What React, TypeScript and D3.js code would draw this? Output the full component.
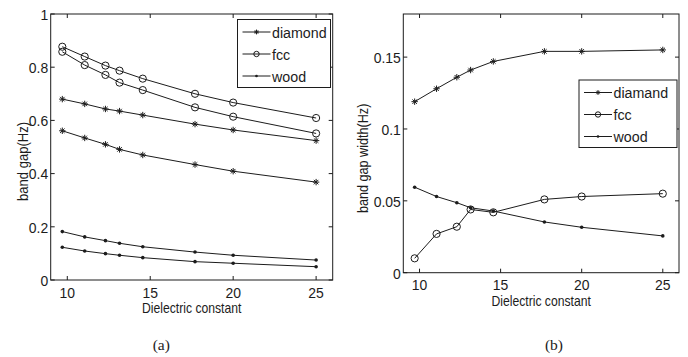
import React, { useEffect, useRef } from "react";
import * as d3 from "d3";

// dielectric constants on the x axis (both panels)
const dielectric = [9.7, 11.05, 12.3, 13.15, 14.55, 17.7, 20, 25];
const xTicks = [10, 15, 20, 25];

// (a) band gap (Hz) - two gaps per lattice
const diamondGapHigh = [0.68, 0.662, 0.643, 0.635, 0.62, 0.586, 0.564, 0.524];
const diamondGapLow = [0.561, 0.534, 0.51, 0.491, 0.47, 0.434, 0.409, 0.368];
const fccGapHigh = [0.877, 0.84, 0.806, 0.787, 0.757, 0.7, 0.667, 0.609];
const fccGapLow = [0.858, 0.808, 0.771, 0.742, 0.714, 0.649, 0.614, 0.551];
const woodGapHigh = [0.182, 0.162, 0.148, 0.138, 0.125, 0.105, 0.093, 0.075];
const woodGapLow = [0.123, 0.109, 0.099, 0.093, 0.084, 0.069, 0.063, 0.05];
const gapTicks = [0, 0.2, 0.4, 0.6, 0.8, 1];
const gapTickLabels = ["0", "0.2", "0.4", "0.6", "0.8", "1"];

// (b) band gap width (Hz)
const diamandWidth = [0.119, 0.128, 0.136, 0.141, 0.147, 0.154, 0.154, 0.155];
const fccWidth = [0.01, 0.027, 0.032, 0.044, 0.042, 0.051, 0.053, 0.055];
const woodWidth = [0.0595, 0.053, 0.0487, 0.0452, 0.0429, 0.0353, 0.0316, 0.0256];
const widthTicks = [0, 0.05, 0.1, 0.15];
const widthTickLabels = ["0", "0.05", "0.1", "0.15"];

const INK = "#1c1c1c";
const FONT = "Liberation Sans, Arial, sans-serif";

type Marker = "star" | "circle" | "dot";

interface Series {
  values: number[];
  marker: Marker;
}

interface Panel {
  box: { left: number; right: number; top: number; bottom: number };
  yDomain: [number, number];
  yTicks: number[];
  yTickLabels: string[];
  yLabel: string;
  yLabelPos: [number, number, number]; // x, y, squeeze
  series: Series[];
  legend: { x: number; y: number; w: number; h: number; names: string[] };
  caption: string;
  captionX: number;
}

const panels: Panel[] = [
  {
    box: { left: 50.7, right: 332.7, top: 14, bottom: 280 },
    yDomain: [0, 1],
    yTicks: gapTicks,
    yTickLabels: gapTickLabels,
    yLabel: "band gap(Hz)",
    yLabelPos: [28, 161.5, 0.9],
    series: [
      { values: fccGapHigh, marker: "circle" },
      { values: fccGapLow, marker: "circle" },
      { values: diamondGapHigh, marker: "star" },
      { values: diamondGapLow, marker: "star" },
      { values: woodGapHigh, marker: "dot" },
      { values: woodGapLow, marker: "dot" },
    ],
    legend: { x: 237.5, y: 19.5, w: 93, h: 68, names: ["diamond", "fcc", "wood"] },
    caption: "(a)",
    captionX: 161.3,
  },
  {
    box: { left: 403.3, right: 679, top: 14, bottom: 272.7 },
    yDomain: [0, 0.18],
    yTicks: widthTicks,
    yTickLabels: widthTickLabels,
    yLabel: "band gap width(Hz)",
    yLabelPos: [368, 158.3, 0.87],
    series: [
      { values: diamandWidth, marker: "star" },
      { values: fccWidth, marker: "circle" },
      { values: woodWidth, marker: "dot" },
    ],
    legend: { x: 579, y: 80, w: 98, h: 67.5, names: ["diamand", "fcc", "wood"] },
    caption: "(b)",
    captionX: 554,
  },
];

function drawMarker(
  g: d3.Selection<SVGGElement, unknown, null, undefined>,
  kind: Marker, x: number, y: number, k = 1
) {
  if (kind === "circle") {
    g.append("circle").attr("cx", x).attr("cy", y).attr("r", 3.6 * k)
      .attr("fill", "none").attr("stroke", INK).attr("stroke-width", 1);
  } else if (kind === "dot") {
    g.append("circle").attr("cx", x).attr("cy", y).attr("r", 1.8 * k).attr("fill", INK);
  } else {
    const s = 3.2 * k;
    const d = s * 0.7;
    g.append("path")
      .attr("d", `M${x - s},${y}H${x + s}M${x},${y - s}V${y + s}M${x - d},${y - d}L${x + d},${y + d}M${x - d},${y + d}L${x + d},${y - d}`)
      .attr("stroke", INK).attr("stroke-width", 1);
  }
}

// the original lettering is a bit condensed, so text is squeezed horizontally
function squeezedText(
  g: d3.Selection<SVGGElement, unknown, null, undefined>,
  x: number, y: number, txt: string, size: number, anchor: string,
  squeeze = 0.9, rotate = 0
) {
  g.append("text")
    .attr("transform", `translate(${x},${y}) rotate(${rotate}) scale(${squeeze},1)`)
    .attr("text-anchor", anchor)
    .attr("font-family", FONT)
    .attr("font-size", size)
    .attr("fill", INK)
    .text(txt);
}

const App: React.FC = () => {
  const svgRef = useRef<SVGSVGElement | null>(null);

  useEffect(() => {
    const svg = d3.select(svgRef.current);
    svg.selectAll("*").remove();

    panels.forEach((p) => {
      const { left, right, top, bottom } = p.box;
      const x = d3.scaleLinear().domain([9, 26]).range([left, right]);
      const y = d3.scaleLinear().domain(p.yDomain).range([bottom, top]);
      const g = svg.append("g");

      // axes box
      g.append("rect").attr("x", left).attr("y", top)
        .attr("width", right - left).attr("height", bottom - top)
        .attr("fill", "white").attr("stroke", INK).attr("stroke-width", 1);

      // inward ticks on all four sides
      const tl = 4;
      xTicks.forEach((t) => {
        g.append("path").attr("d", `M${x(t)},${bottom}V${bottom - tl}M${x(t)},${top}V${top + tl}`)
          .attr("stroke", INK).attr("stroke-width", 1);
        squeezedText(g, x(t), bottom + 17.5, String(t), 15.5, "middle", 0.9);
      });
      p.yTicks.forEach((t, i) => {
        g.append("path").attr("d", `M${left},${y(t)}H${left + tl}M${right},${y(t)}H${right - tl}`)
          .attr("stroke", INK).attr("stroke-width", 1);
        squeezedText(g, left - 2.5, y(t) + 5.8, p.yTickLabels[i], 15.5, "end", 0.9);
      });

      // series
      const line = d3.line<number>()
        .x((_, i) => x(dielectric[i]))
        .y((v) => y(v));
      p.series.forEach((s) => {
        g.append("path").attr("d", line(s.values)!)
          .attr("fill", "none").attr("stroke", INK).attr("stroke-width", 1);
        s.values.forEach((v, i) => drawMarker(g, s.marker, x(dielectric[i]), y(v)));
      });

      // legend
      const L = p.legend;
      g.append("rect").attr("x", L.x).attr("y", L.y).attr("width", L.w).attr("height", L.h)
        .attr("fill", "white").attr("stroke", INK).attr("stroke-width", 1);
      const markers: Marker[] = ["star", "circle", "dot"];
      L.names.forEach((name, i) => {
        const ly = L.y + 12.5 + i * 22;
        g.append("line").attr("x1", L.x + 5).attr("x2", L.x + 33).attr("y1", ly).attr("y2", ly)
          .attr("stroke", INK).attr("stroke-width", 1);
        drawMarker(g, markers[i], L.x + 19, ly, 0.75);
        squeezedText(g, L.x + 34.5, ly + 5.5, name, 15.5, "start", 0.92);
      });

      // axis labels and caption
      squeezedText(g, (left + right) / 2, bottom + 33, "Dielectric constant", 14.5, "middle", 0.84);
      const [lx, ly, lsq] = p.yLabelPos;
      squeezedText(g, lx, ly, p.yLabel, 14.5, "middle", lsq, -90);
      g.append("text")
        .attr("x", p.captionX).attr("y", 350)
        .attr("text-anchor", "middle")
        .attr("font-family", "Liberation Serif, Times New Roman, serif")
        .attr("font-size", 15.5)
        .attr("fill", INK)
        .text(p.caption);
    });
  }, []);

  return (
    <svg
      ref={svgRef}
      width={688}
      height={357}
      style={{ position: "absolute", left: 0, top: 0, background: "white" }}
    ></svg>
  );
};

export default App;
